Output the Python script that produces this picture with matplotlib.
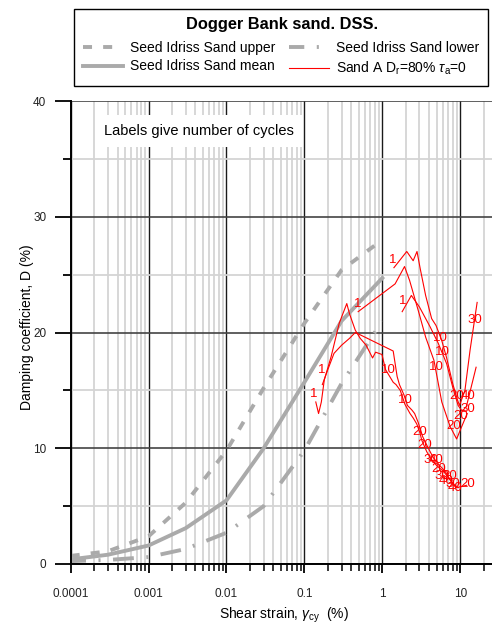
import matplotlib
matplotlib.use('Agg')
import matplotlib.pyplot as plt
from matplotlib.ticker import LogLocator, NullFormatter
from matplotlib.patches import Rectangle

plt.rcParams['font.family'] = ['Liberation Sans', 'DejaVu Sans']
plt.rcParams['mathtext.fontset'] = 'custom'
plt.rcParams['mathtext.rm'] = 'Liberation Sans'
plt.rcParams['mathtext.it'] = 'Liberation Sans:italic'
plt.rcParams['mathtext.bf'] = 'Liberation Sans:bold'
plt.rcParams['lines.scale_dashes'] = False

# ---------------- data ----------------
si_strain = [0.0001, 0.0003, 0.001, 0.003, 0.01, 0.03, 0.1, 0.3, 1.0]
si_upper = [0.7, 1.1, 2.4, 5.3, 9.8, 15.2, 20.8, 25.4, 28.0]
si_mean = [0.4, 0.8, 1.6, 3.1, 5.5, 10.0, 15.7, 21.0, 24.7]
si_lower = [0.25, 0.35, 0.6, 1.3, 2.7, 5.0, 9.8, 15.6, 21.0]

testA_x = [0.14, 0.152, 0.165, 0.18, 0.22, 0.28, 0.35, 0.38, 0.45, 0.52, 0.62, 0.75, 0.82, 0.99,
           1.1, 1.38, 1.5, 1.7, 1.95, 2.27, 2.5, 2.77, 3.05, 3.21, 3.72, 4.3, 5.0, 6.1, 7.0, 8.1,
           9.0, 10.4, 12.1]
testA_y = [14.0, 13.0, 14.0, 15.9, 17.9, 20.8, 22.5, 21.6, 20.2, 19.5, 18.9, 17.8, 18.3, 18.1,
           16.8, 15.7, 15.5, 15.0, 13.8, 13.0, 12.6, 12.1, 11.3, 10.7, 9.7, 9.0, 8.5, 8.0, 7.5, 6.9,
           6.6, 6.7, 6.8]

testB_x = [0.17, 0.2, 0.24, 0.3, 0.38, 0.45, 0.52, 1.38, 1.55, 1.66, 1.9, 2.1, 2.4, 2.6, 2.9,
           3.3, 3.9, 4.5, 5.3, 6.4, 7.4, 8.5, 9.5]
testB_y = [15.5, 16.8, 18.2, 18.9, 19.5, 20.0, 19.8, 18.4, 16.2, 15.5, 14.6, 13.7, 13.3, 13.0,
           12.2, 11.0, 10.0, 9.2, 8.6, 8.0, 7.3, 6.8, 6.6]

testC_x = [1.41, 2.06, 2.49, 2.79, 3.07, 3.6, 4.3, 4.9, 5.8, 6.7, 8.0, 9.2, 9.8, 11.5, 13.4, 16.5]
testC_y = [25.6, 27.0, 26.2, 27.0, 25.5, 23.2, 21.2, 20.6, 19.3, 17.8, 15.6, 14.2, 13.7, 15.0,
           18.5, 22.6]

testD_x = [1.8, 2.36, 3.0, 4.1, 5.2, 6.7, 8.0, 9.4, 10.6, 12.0, 16.0]
testD_y = [21.8, 23.2, 22.2, 20.5, 19.1, 17.3, 15.3, 13.7, 13.2, 13.6, 17.0]

testE_x = [0.49, 1.46, 1.93, 2.24, 2.98, 3.6, 4.6, 5.8, 7.4, 9.0, 10.2, 12.3]
testE_y = [21.8, 24.2, 25.7, 24.5, 21.6, 19.6, 17.6, 14.0, 11.9, 10.8, 11.7, 13.0]

cycle_text = ['1', '1', '1', '1', '1', '10', '10', '10', '10', '10', '20', '20', '20', '40', '30',
              '30', '20', '20', '30', '40', '20', '30', '40', '20', '30', '40', '20']
cycle_x = [0.130, 0.167, 0.49, 1.38, 1.83, 1.19, 1.95, 5.5, 5.96, 4.99, 3.05, 3.53, 9.0, 12.7, 15.5,
           12.7, 8.2, 10.0, 4.2, 4.9, 5.3, 5.8, 6.6, 7.3, 8.0, 8.6, 12.3]
cycle_y = [14.7, 16.8, 22.5, 26.3, 22.7, 16.8, 14.2, 19.5, 18.3, 17.0, 11.4, 10.3, 14.5, 14.5, 21.1,
           13.4, 11.9, 12.8, 9.0, 9.0, 8.2, 7.6, 7.2, 7.6, 6.9, 6.6, 6.9]

xtick_vals = [0.0001, 0.001, 0.01, 0.1, 1, 10]
xtick_labels = ['0.0001', '0.001', '0.01', '0.1', '1', '10']
ytick_vals = [0, 10, 20, 30, 40]
ytick_minor = [5, 15, 25, 35]

# ---------------- figure ----------------
fig = plt.figure(figsize=(4.92, 6.26), dpi=100)
ax = fig.add_axes([70.7 / 492, 62 / 626, 1 - 70.7 / 492, 463 / 626])
ax.set_xscale('log')
ax.set_xlim(1e-4, 25.6)
ax.set_ylim(0, 40)

gray = '#aaaaaa'
lw_g = 2.8
l_up, = ax.plot(si_strain, si_upper, color=gray, lw=lw_g, ls=(0, (6.5, 8.0)), zorder=2,
                label='Seed Idriss Sand upper')
l_mean, = ax.plot(si_strain, si_mean, color=gray, lw=lw_g, ls='-', zorder=2,
                  label='Seed Idriss Sand mean')
l_low, = ax.plot(si_strain, si_lower, color=gray, lw=lw_g, ls=(4, (15, 9, 1.5, 9)), zorder=2,
                 label='Seed Idriss Sand lower')

red = '#ff0000'
l_red, = ax.plot(testA_x, testA_y, color=red, lw=0.8, zorder=3,
                 label=r'Sand A D$_\mathrm{r}$=80% $\tau_\mathrm{a}$=0')
for xs, ys in [(testB_x, testB_y), (testC_x, testC_y), (testD_x, testD_y), (testE_x, testE_y)]:
    ax.plot(xs, ys, color=red, lw=0.8, zorder=3)

for t, x, y in zip(cycle_text, cycle_x, cycle_y):
    ax.text(x, y, t, color=red, fontsize=9.5, ha='center', va='center', zorder=4)

# grid
ax.set_xticks(xtick_vals)
ax.set_xticklabels(xtick_labels)
ax.xaxis.set_minor_locator(LogLocator(base=10, subs=[2, 3, 4, 5, 6, 7, 8, 9], numticks=20))
ax.xaxis.set_minor_formatter(NullFormatter())
ax.set_yticks(ytick_vals)
ax.set_yticks(ytick_minor, minor=True)

ax.set_axisbelow(True)
ax.grid(which='minor', axis='both', color='#d4d4d4', lw=1.3)
ax.grid(which='major', axis='x', color='#1a1a1a', lw=1.0)
ax.grid(which='major', axis='y', color='#444444', lw=1.2)

for s in ['top', 'right']:
    ax.spines[s].set_visible(False)
for s in ['left', 'bottom']:
    ax.spines[s].set_color('black')
    ax.spines[s].set_linewidth(1.4)

ax.tick_params(axis='y', which='major', direction='out', length=11.5, width=1.3, pad=6,
               labelsize=8.5, colors='black')
ax.tick_params(axis='y', which='minor', direction='out', length=6, width=1.3)
ax.tick_params(axis='x', which='major', direction='out', length=6.5, width=1.3, pad=11,
               labelsize=8.5)
ax.tick_params(axis='x', which='minor', direction='out', length=5, width=1.1)
for lab in ax.get_xticklabels() + ax.get_yticklabels():
    lab.set_color('#222222')

ax.set_xlabel(r'Shear strain, $\gamma_\mathrm{cy}$  (%)', fontsize=10)
ax.xaxis.set_label_coords((284 - 70.7) / 421.3, (564 - 615) / 463)
ax.xaxis.label.set_va('center')
ax.set_ylabel('Damping coefficient, D (%)', fontsize=10)
ax.yaxis.set_label_coords((27 - 70.7) / 421.3, (564 - 327) / 463)
ax.yaxis.label.set_va('center')

ax.text((104 - 70.7) / 421.3, (564 - 131) / 463, 'Labels give number of cycles',
        transform=ax.transAxes, fontsize=10.5, ha='left', va='center', zorder=5,
        bbox=dict(boxstyle='square,pad=0.6', fc='white', ec='none'))

# legend box
fig.patches.append(Rectangle((74 / 492, 1 - 86 / 626), (488 - 74) / 492, 77 / 626,
                             transform=fig.transFigure, fc='white', ec='black', lw=1.0))
fig.text(282 / 492, 1 - 25 / 626, 'Dogger Bank sand. DSS.', fontsize=11.8, fontweight='bold',
         ha='center', va='center')
fig.legend(handles=[l_up, l_mean, l_low, l_red], ncol=2, frameon=False,
           loc='upper left', bbox_to_anchor=(83 / 492, 1 - 41 / 626), borderpad=0,
           borderaxespad=0, fontsize=10, handlelength=2.9, handletextpad=0.5,
           columnspacing=0.95, labelspacing=0.32)

fig.savefig('out.png', dpi=100)
